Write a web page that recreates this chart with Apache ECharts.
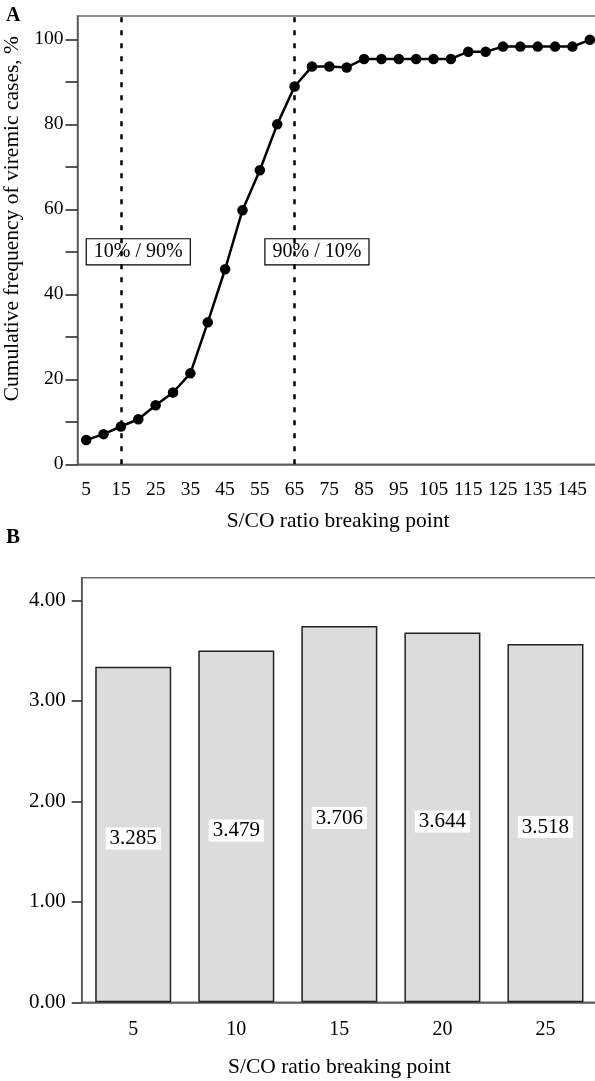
<!DOCTYPE html>
<html>
<head>
<meta charset="utf-8">
<title>S/CO ratio breaking point</title>
<script src="https://cdn.jsdelivr.net/npm/echarts@6/dist/echarts.min.js"></script>
<style>
html,body{margin:0;padding:0;background:#fff;}
#chartmain{width:595px;height:1081px;}
</style>
</head>
<body>
<div id="chartmain"></div>
<script>
// A: 累计频率
var ratioCategories = ['5','10','15','20','25','30','35','40','45','50','55','60','65','70','75',
                       '80','85','90','95','100','105','110','115','120','125','130','135','140','145','150'];
var cumulativeFreq = [5.7, 7.1, 8.9, 10.6, 13.9, 16.9, 21.4, 33.4, 45.9, 59.8, 69.2, 80.0, 88.9, 93.6, 93.6,
                      93.4, 95.4, 95.4, 95.4, 95.4, 95.4, 95.4, 97.1, 97.1, 98.3, 98.3, 98.3, 98.3, 98.3, 99.9];
var freqTickValues = [0,10,20,30,40,50,60,70,80,90,100];
var freqLabelValues = [0,20,40,60,80,100];
var cutoffLines = ['15','65'];
var cutoffNotes = ['10% / 90%','90% / 10%'];
var cutoffNoteAt = [['20',50],['70',50]];

// B: 柱状图
var breakPoints = ['5','10','15','20','25'];
var barHeights = [3.34, 3.50, 3.745, 3.68, 3.566];
var barLabels = ['3.285','3.479','3.706','3.644','3.518'];
var scoreLabelValues = [0,1,2,3,4];

var serif = 'Liberation Serif';
var myChart = echarts.init(document.getElementById('chartmain'), null, {renderer:'canvas'});

myChart.setOption({
    animation:false,
    backgroundColor:'#fff',
    textStyle:{fontFamily:serif, color:'#000'},
    title:[
        {text:'A', left:6, top:6, padding:0, textStyle:{fontFamily:serif, fontWeight:'bold', fontSize:20, color:'#000'}},
        {text:'B', left:6, top:527, padding:0, textStyle:{fontFamily:serif, fontWeight:'bold', fontSize:21, color:'#000'}}
    ],
    grid:[
        {left:77.5, right:-3.5, top:16, bottom:616.7, show:true, borderColor:'#6e6e6e', borderWidth:1.5,
         backgroundColor:'transparent', outerBoundsMode:'none'},
        {left:81.7, right:-2, top:577.7, bottom:78.7, show:true, borderColor:'#6e6e6e', borderWidth:1.5,
         backgroundColor:'transparent', outerBoundsMode:'none'}
    ],
    xAxis:[
        {
            gridIndex:0, type:'category', data:ratioCategories, boundaryGap:true,
            name:'S/CO ratio breaking point', nameLocation:'middle', nameGap:46,
            nameTextStyle:{fontFamily:serif, fontSize:21.5, color:'#000'},
            axisLine:{lineStyle:{color:'#555', width:1.5}},
            axisTick:{alignWithLabel:true, interval:1, length:12, lineStyle:{color:'#222', width:1.5}},
            axisLabel:{interval:1, margin:16, fontFamily:serif, fontSize:19.5, color:'#000'},
            splitLine:{show:false}
        },
        {
            gridIndex:1, type:'category', data:breakPoints, boundaryGap:true,
            name:'S/CO ratio breaking point', nameLocation:'middle', nameGap:54,
            nameTextStyle:{fontFamily:serif, fontSize:21.5, color:'#000'},
            axisLine:{lineStyle:{color:'#555', width:1.5}},
            axisTick:{alignWithLabel:true, length:12, lineStyle:{color:'#222', width:1.5}},
            axisLabel:{margin:17, fontFamily:serif, fontSize:20, color:'#000'},
            splitLine:{show:false}
        }
    ],
    yAxis:[
        {
            gridIndex:0, type:'value', min:0, max:105.5,
            name:'Cumulative frequency of viremic cases, %', nameLocation:'middle', nameGap:48,
            nameTextStyle:{fontFamily:serif, fontSize:21.5, color:'#000', padding:[0,0,0,43]},
            axisLine:{show:true, lineStyle:{color:'#555', width:1.5}},
            axisTick:{show:true, length:12, customValues:freqTickValues, lineStyle:{color:'#222', width:1.5}},
            axisLabel:{margin:14, customValues:freqLabelValues, fontFamily:serif, fontSize:19.5, color:'#000'},
            splitLine:{show:false}
        },
        {
            gridIndex:1, type:'value', min:0, max:4.225,
            axisLine:{show:true, lineStyle:{color:'#555', width:1.5}},
            axisTick:{show:true, length:10, customValues:scoreLabelValues, lineStyle:{color:'#222', width:1.5}},
            axisLabel:{margin:16, customValues:scoreLabelValues, fontFamily:serif, fontSize:21, color:'#000',
                formatter:function(v){ return v.toFixed(2); }},
            splitLine:{show:false}
        }
    ],
    series:[
        {
            //方框注释
            type:'scatter', xAxisIndex:0, yAxisIndex:0, z:1, silent:true,
            symbolSize:1, itemStyle:{color:'#fff', opacity:1},
            data:cutoffNoteAt.map(function(p, i){
                return {value:p, name:cutoffNotes[i], label:{offset:i === 1 ? [5,0] : [0,0]}};
            }),
            label:{
                show:true, position:'inside', formatter:'{b}',
                fontFamily:serif, fontSize:20, color:'#000', opacity:1,
                backgroundColor:'#fff', borderColor:'#000', borderWidth:1.2, padding:[3,7,2,7]
            },
            emphasis:{disabled:true}
        },
        {
            //累计频率折线
            type:'line', xAxisIndex:0, yAxisIndex:0, z:5,
            data:cumulativeFreq, symbol:'circle', symbolSize:10.5,
            lineStyle:{color:'#000', width:2.5}, itemStyle:{color:'#000'},
            markLine:{
                silent:true, symbol:['none','none'], label:{show:false},
                lineStyle:{color:'#000', type:[5,8], width:2.5},
                data:cutoffLines.map(function(c){ return {xAxis:c}; })
            }
        },
        {
            type:'bar', xAxisIndex:1, yAxisIndex:1,
            data:barHeights, barWidth:76,
            itemStyle:{color:'#dcdcdc', borderColor:'#222', borderWidth:1.5},
            label:{
                show:true, position:'inside', offset:[0,4],
                formatter:function(p){ return barLabels[p.dataIndex]; },
                fontFamily:serif, fontSize:21, color:'#000',
                backgroundColor:'#fff', padding:[1,4,0,4]
            }
        }
    ]
});
</script>
</body>
</html>
